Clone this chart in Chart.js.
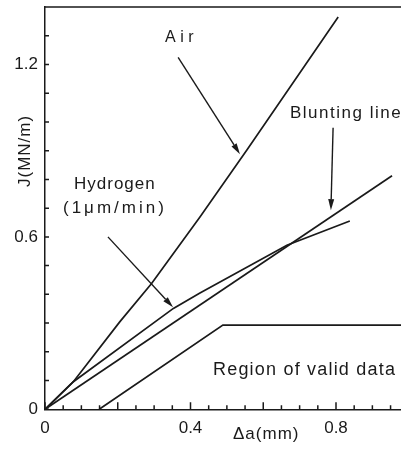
<!DOCTYPE html>
<html><head><meta charset="utf-8">
<style>
html,body{margin:0;padding:0;overflow:hidden;background:#fff;width:401px;height:450px}
#wrap{width:420px;height:450px}
</style>
<script src="https://cdn.jsdelivr.net/npm/chart.js@4.4.0/dist/chart.umd.min.js"></script>
</head><body>
<div id="wrap"><canvas id="c" width="420" height="450"></canvas></div>
<script>
// ---- data (Δa in mm, J in MN/m) ----
const airX = [0, 0.078, 0.206, 0.293, 0.426, 0.555, 0.806];
const airJ = [0, 0.096, 0.305, 0.438, 0.669, 0.902, 1.365];
const h2X = [0, 0.078, 0.353, 0.426, 0.665, 0.838];
const h2J = [0, 0.096, 0.351, 0.405, 0.571, 0.655];
const bluntX = [0, 0.954];
const bluntJ = [0, 0.813];
const validX = [0.149, 0.489, 1.0];
const validJ = [0, 0.293, 0.293];
const xTickLabels = [0, 0.4, 0.8];
const yTickLabels = [0, 0.6, 1.2];

const INK = '#1a1a1a';
const FONT = '"Liberation Sans", Arimo, Helvetica, Arial, sans-serif';
const pts = (xs, ys) => xs.map((v, i) => ({x: v, y: ys[i]}));
const ds = (label, xs, ys) => ({
  label, data: pts(xs, ys), showLine: true, borderColor: INK, borderWidth: 1.7,
  pointRadius: 0, fill: false, tension: 0, clip: false
});

// annotation arrows in data coordinates: [x0, y0, x1(tip), y1(tip)]
const arrows = [
  [0.366, 1.225, 0.536, 0.888],
  [0.792, 0.980, 0.786, 0.693],
  [0.173, 0.600, 0.352, 0.355]
];

const deco = {
  id: 'deco',
  afterDatasetsDraw(chart) {
    const {ctx, chartArea: a, scales: {x, y}} = chart;
    ctx.save();
    ctx.strokeStyle = INK; ctx.fillStyle = INK; ctx.lineWidth = 1.5;
    ctx.beginPath();
    ctx.moveTo(a.left, a.top); ctx.lineTo(chart.width, a.top);
    for (let i = 0; i <= 20; i++) {
      const px = x.getPixelForValue(i * 0.05);
      const len = i % 4 === 0 ? 7 : 4;
      ctx.moveTo(px, a.bottom); ctx.lineTo(px, a.bottom - len);
    }
    for (let i = 0; i <= 14; i++) {
      const py = y.getPixelForValue(i * 0.1);
      ctx.moveTo(a.left, py); ctx.lineTo(a.left + 4, py);
    }
    ctx.stroke();
    // arrows
    ctx.lineWidth = 1.4;
    arrows.forEach(([x0, y0, x1, y1]) => {
      const p0 = [x.getPixelForValue(x0), y.getPixelForValue(y0)];
      const p1 = [x.getPixelForValue(x1), y.getPixelForValue(y1)];
      const ang = Math.atan2(p1[1] - p0[1], p1[0] - p0[0]);
      const L = 11, W = 3;
      const bx = p1[0] - L * Math.cos(ang), by = p1[1] - L * Math.sin(ang);
      ctx.beginPath(); ctx.moveTo(p0[0], p0[1]); ctx.lineTo(bx, by); ctx.stroke();
      ctx.beginPath();
      ctx.moveTo(p1[0], p1[1]);
      ctx.lineTo(bx + W * Math.sin(ang), by - W * Math.cos(ang));
      ctx.lineTo(bx - W * Math.sin(ang), by + W * Math.cos(ang));
      ctx.closePath(); ctx.fill();
    });
    // texts
    const txt = (s, px, py, size, sp) => {
      ctx.font = size + 'px ' + FONT;
      ctx.letterSpacing = sp + 'px';
      ctx.textAlign = 'left'; ctx.textBaseline = 'alphabetic';
      ctx.fillText(s, px, py);
    };
    txt('Air', 165, 41.7, 16, 4.5);
    txt('Blunting line', 290, 118.3, 17, 1.5);
    txt('Hydrogen', 74, 189.3, 17, 1);
    txt('(1\u03bcm/min)', 63, 213.3, 17, 3);
    txt('Region of valid data', 213, 375, 18, 1.2);
    txt('\u0394a(mm)', 233, 439, 17, 1);
    ctx.save();
    ctx.translate(30, 187); ctx.rotate(-Math.PI / 2);
    txt('J(MN/m)', 0, 0, 17, 1);
    ctx.restore();
    ctx.restore();
  }
};

const fmt = (list) => (v) => {
  const r = Math.round(v * 100) / 100;
  return list.includes(r) ? String(r) : null;
};
const zeroPad = (s) => { s.paddingTop = 0; s.paddingBottom = 0; s.paddingLeft = 0; s.paddingRight = 0; };

new Chart(document.getElementById('c'), {
  type: 'scatter',
  data: {
    datasets: [
      ds('Air', airX, airJ),
      ds('Hydrogen (1μm/min)', h2X, h2J),
      ds('Blunting line', bluntX, bluntJ),
      ds('Region of valid data', validX, validJ)
    ]
  },
  options: {
    responsive: false, animation: false,
    layout: {padding: {top: 7, right: 11.25, left: 0, bottom: 0}},
    plugins: {legend: {display: false}, tooltip: {enabled: false}},
    scales: {
      x: {
        type: 'linear', min: 0, max: 1, position: 'bottom',
        grid: {display: false, drawTicks: false},
        border: {display: true, color: INK, width: 1.5},
        ticks: {stepSize: 0.05, autoSkip: false, maxRotation: 0, padding: 9,
                color: INK, font: {size: 17, family: FONT}, callback: fmt(xTickLabels)},
        afterFit: s => { s.height = 40.7; zeroPad(s); }
      },
      y: {
        type: 'linear', min: 0, max: 1.4,
        grid: {display: false, drawTicks: false},
        border: {display: true, color: INK, width: 1.5},
        ticks: {stepSize: 0.1, autoSkip: false, padding: 7,
                color: INK, font: {size: 17, family: FONT}, callback: fmt(yTickLabels)},
        afterFit: s => { s.width = 45; zeroPad(s); }
      }
    }
  },
  plugins: [deco]
});
</script>
</body></html>
